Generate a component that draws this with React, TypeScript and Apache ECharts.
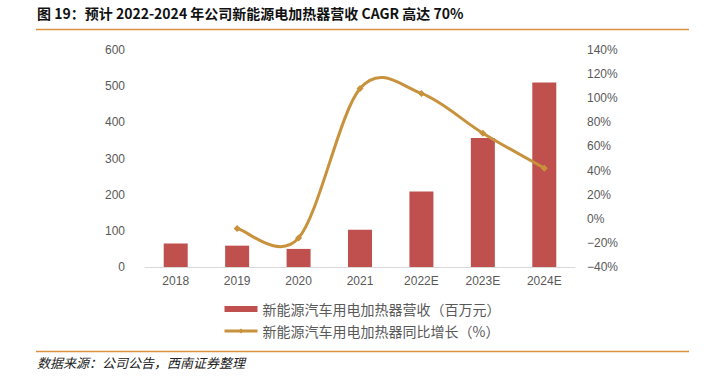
import React, { useEffect, useRef } from "react";
import * as echarts from "echarts";

const categories = ["2018", "2019", "2020", "2021", "2022E", "2023E", "2024E"];
const revenue = [65, 59, 50, 103, 209, 357, 510];
const growth: (number | null)[] = [null, -8, -16, 108, 104, 71, 42];
const revenueName = "新能源汽车用电加热器营收（百万元）";
const growthName = "新能源汽车用电加热器同比增长（%）";
const titleText = "图 19：预计 2022-2024 年公司新能源电加热器营收 CAGR 高达 70%";
const sourceText = "数据来源：公司公告，西南证券整理";

const lineColor = "#C8913C";

export default function App() {
  const ref = useRef<HTMLDivElement>(null);
  useEffect(() => {
    if (!ref.current) return;
    const chart = echarts.init(ref.current, undefined, { renderer: "svg" });
    const labelStyle = {
      color: "#595959",
      fontSize: 12,
      fontFamily: "Liberation Sans, Arial, sans-serif",
    };
    // Smooth (Excel-like Catmull-Rom) curve segments drawn via the axes' scales
    const renderCurve = (params: any, api: any) => {
      const i = params.dataIndex;
      const n = growth.length;
      if (i >= n - 1 || growth[i] == null || growth[i + 1] == null) return null;
      const pt = (k: number) => api.coord([k, growth[k] as number]);
      const p1 = pt(i);
      const p2 = pt(i + 1);
      const p0 = i - 1 >= 0 && growth[i - 1] != null ? pt(i - 1) : p1;
      const p3 = i + 2 < n && growth[i + 2] != null ? pt(i + 2) : p2;
      return {
        type: "bezierCurve",
        shape: {
          x1: p1[0],
          y1: p1[1],
          cpx1: p1[0] + (p2[0] - p0[0]) / 6,
          cpy1: p1[1] + (p2[1] - p0[1]) / 6,
          cpx2: p2[0] - (p3[0] - p1[0]) / 6,
          cpy2: p2[1] - (p3[1] - p1[1]) / 6,
          x2: p2[0],
          y2: p2[1],
        },
        style: { stroke: lineColor, lineWidth: 3, fill: "none", lineCap: "round" },
        silent: true,
      };
    };
    chart.setOption({
      animation: false,
      backgroundColor: "#ffffff",
      grid: { left: 145, right: 134, top: 50, bottom: 109 },
      legend: {
        orient: "vertical",
        left: 218,
        top: 297,
        itemWidth: 33,
        itemHeight: 6,
        itemGap: 8,
        textStyle: {
          color: "#595959",
          fontSize: 14,
          fontFamily: "Noto Sans CJK SC, sans-serif",
        },
        data: [
          { name: revenueName, icon: "rect" },
          {
            name: growthName,
            lineStyle: { color: lineColor, width: 3, opacity: 1 },
            itemStyle: { color: lineColor, opacity: 1 },
          },
        ],
      },
      xAxis: {
        type: "category",
        data: categories,
        axisLine: { lineStyle: { color: "#d9d9d9", width: 1 } },
        axisTick: { show: false },
        axisLabel: { ...labelStyle, margin: 8 },
      },
      yAxis: [
        {
          type: "value",
          min: 0,
          max: 600,
          interval: 100,
          splitLine: { show: false },
          axisLine: { show: false },
          axisTick: { show: false },
          axisLabel: { ...labelStyle, margin: 20 },
        },
        {
          type: "value",
          min: -40,
          max: 140,
          interval: 20,
          position: "right",
          splitLine: { show: false },
          axisLine: { show: false },
          axisTick: { show: false },
          axisLabel: {
            ...labelStyle,
            margin: 12,
            formatter: (v: number) => `${v}%`.replace("-", "−"),
          },
        },
      ],
      series: [
        {
          name: revenueName,
          type: "bar",
          data: revenue,
          barWidth: 24,
          itemStyle: { color: "#C0504D" },
        },
        {
          name: "curve",
          type: "custom",
          yAxisIndex: 1,
          coordinateSystem: "cartesian2d",
          renderItem: renderCurve,
          data: categories.map((_, i) => [i, growth[i] ?? 0]),
          z: 3,
          silent: true,
        },
        {
          name: growthName,
          type: "line",
          yAxisIndex: 1,
          data: growth,
          smooth: false,
          symbol: "diamond",
          symbolSize: 7,
          lineStyle: { color: lineColor, width: 3, opacity: 0 },
          itemStyle: { color: lineColor },
          z: 4,
        },
      ],
      graphic: [
        {
          type: "text",
          left: 37,
          top: 6,
          style: {
            text: titleText,
            fill: "#111111",
            fontSize: 14,
            fontWeight: "bold",
            fontFamily: "Noto Sans CJK SC, sans-serif",
          },
        },
        {
          type: "line",
          shape: { x1: 36, y1: 29.5, x2: 689, y2: 29.5 },
          style: { stroke: "#D9933F", lineWidth: 1.5 },
        },
        {
          type: "line",
          shape: { x1: 36, y1: 351.5, x2: 689, y2: 351.5 },
          style: { stroke: "#D9933F", lineWidth: 1.5 },
        },
        {
          type: "text",
          left: 37,
          top: 356,
          style: {
            text: sourceText,
            fill: "#222222",
            fontSize: 13,
            fontStyle: "italic",
            fontFamily: "Noto Sans CJK SC, sans-serif",
          },
        },
      ],
    });
    return () => chart.dispose();
  }, []);
  return (
    <div
      ref={ref}
      style={{ position: "fixed", left: 0, top: 0, width: 709, height: 376, background: "#fff" }}
    />
  );
}
